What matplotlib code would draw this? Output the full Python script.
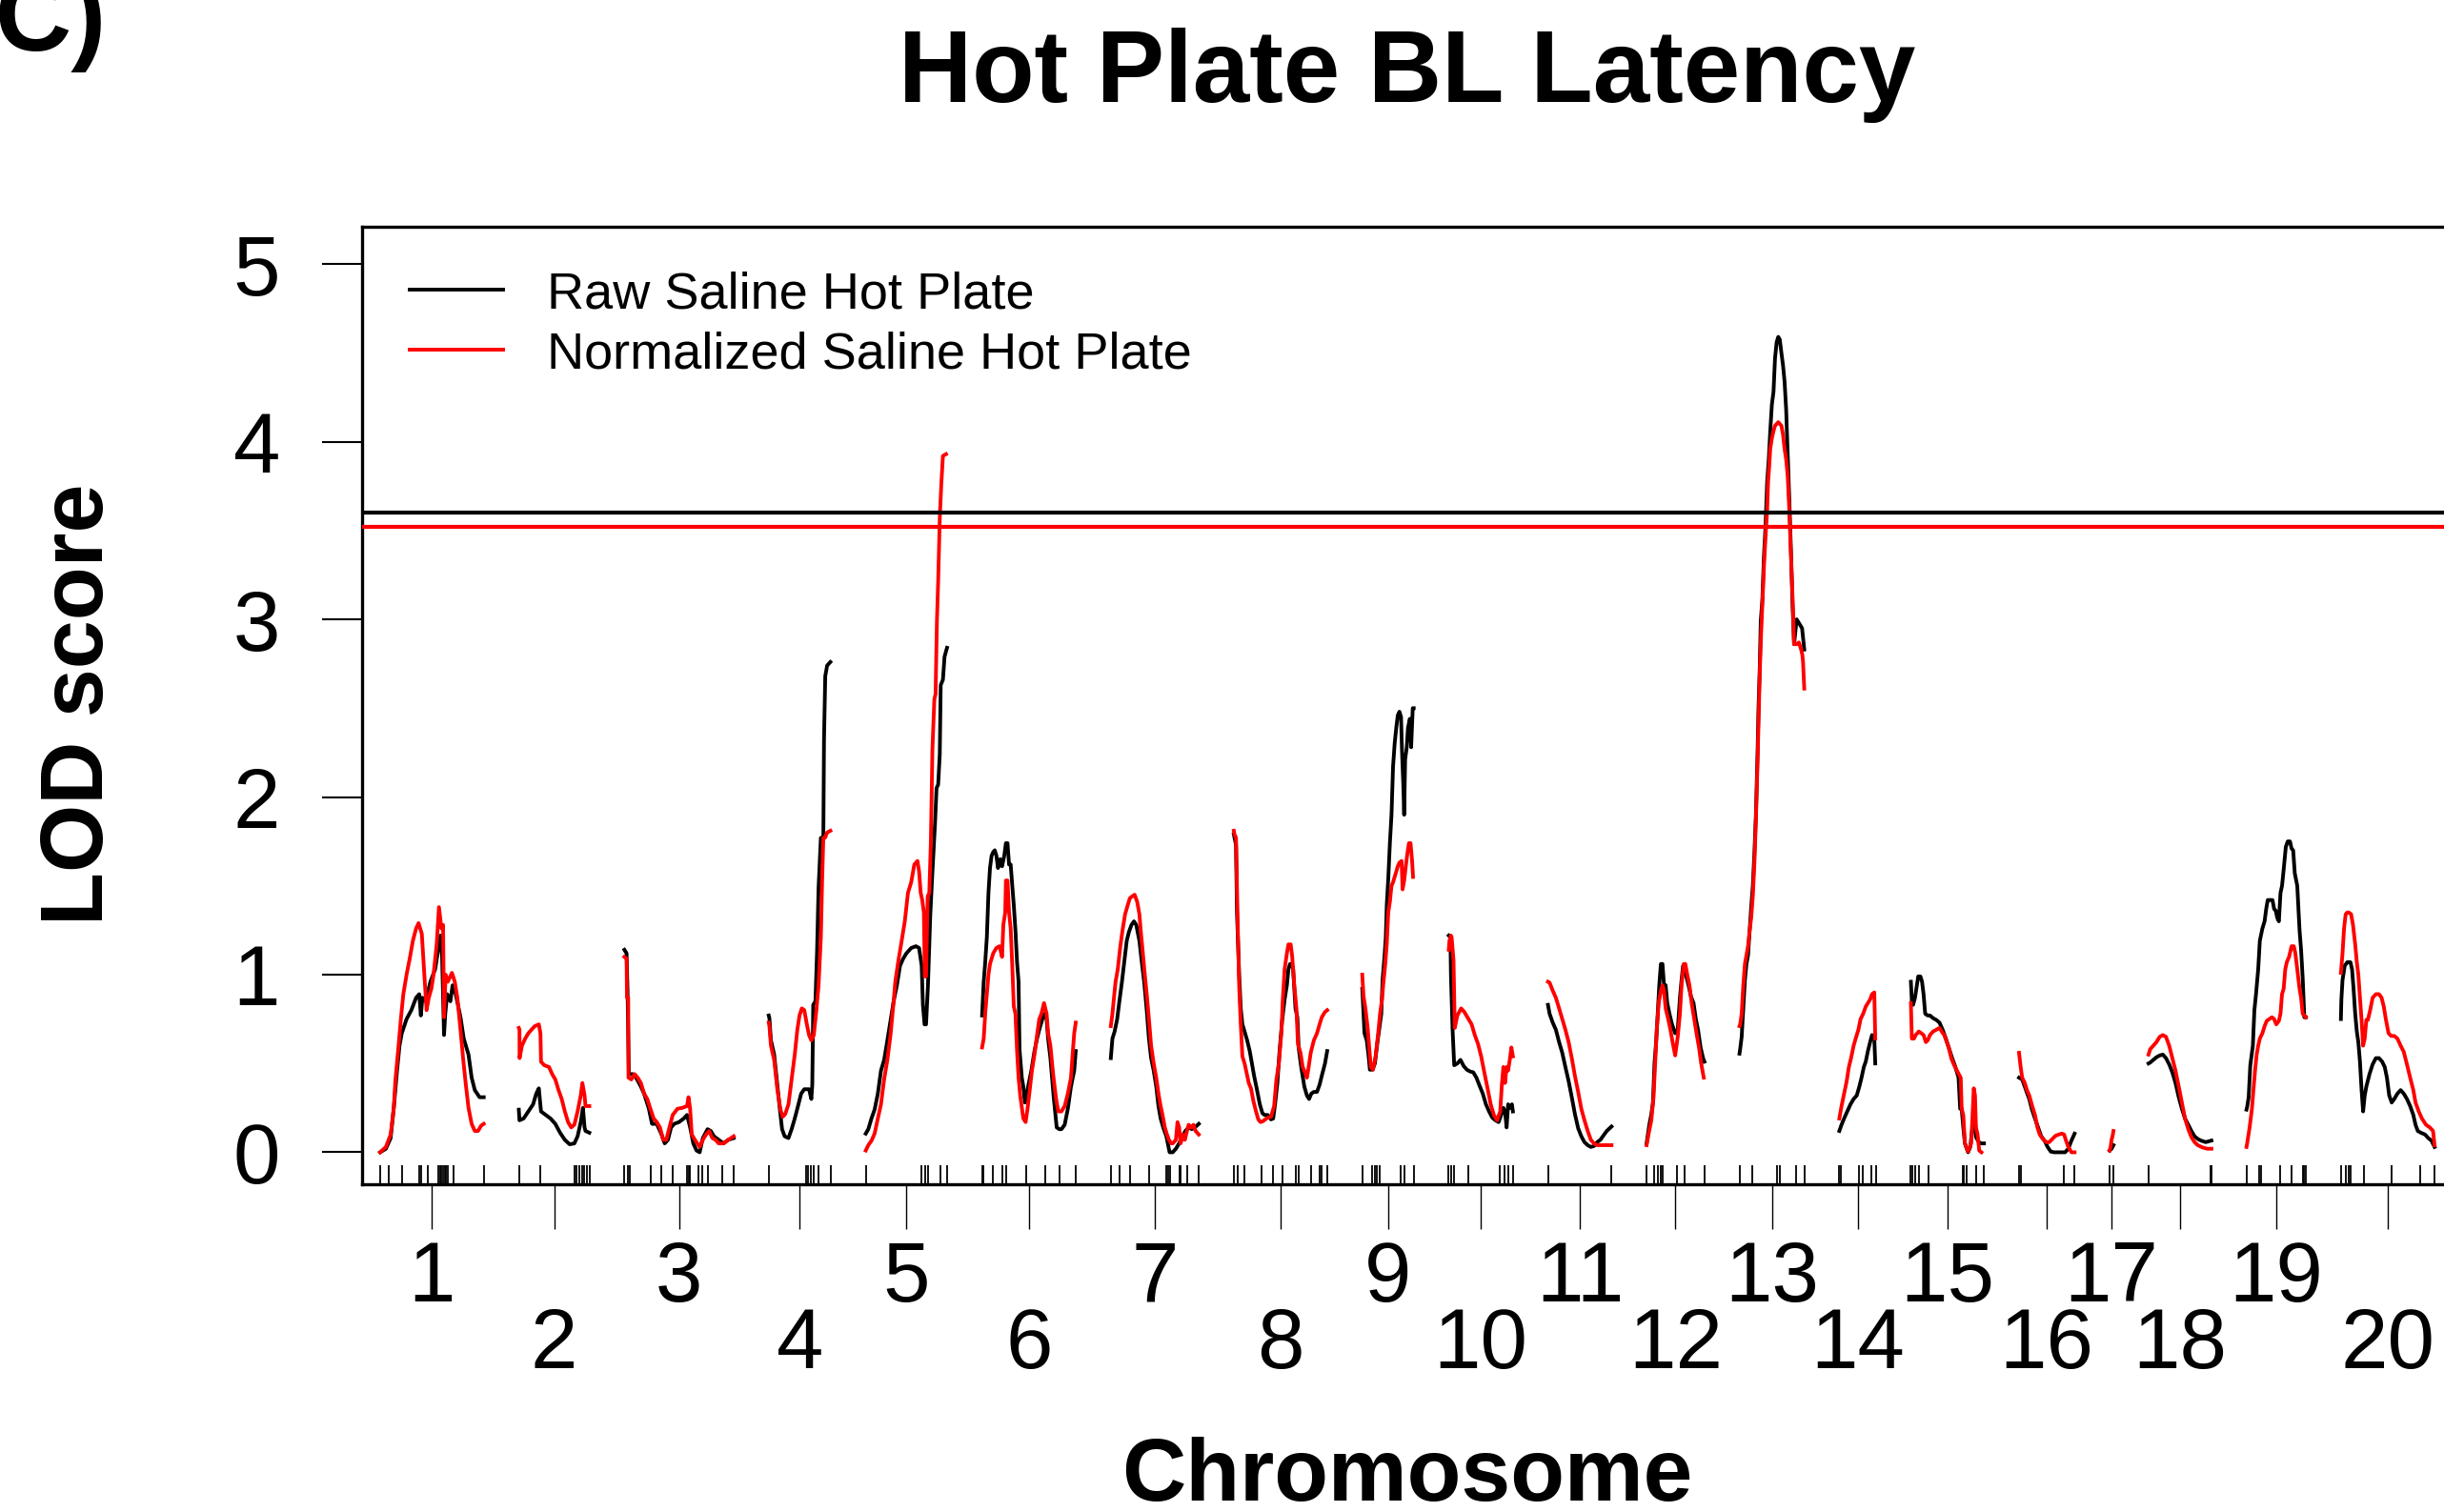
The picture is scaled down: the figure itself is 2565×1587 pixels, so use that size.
import numpy as np
import matplotlib
matplotlib.use('Agg')
import matplotlib.pyplot as plt
import matplotlib.transforms as mtransforms
from matplotlib.lines import Line2D

# LOD profiles: (position within chromosome, LOD)
raw1 = [(0,0.00),(6,0.02),(11,0.08),(14.3,0.25),(17.7,0.46),(20.3,0.60),(22.7,0.67),(27.7,0.75),(32.7,0.80),(37.7,0.87),(41,0.89),(42.7,0.77),(44.3,0.87),(47.7,0.85),(52.7,0.96),(57.7,1.03),(61.7,1.17),(63.3,1.22),(65,1.10),(67,0.66),(68.3,0.78),(70.3,0.89),(73.7,0.85),(76,0.94),(79.3,0.89),(84.3,0.76),(87.7,0.64),(92.7,0.55),(96,0.42),(99.3,0.35),(104.3,0.31),(108.7,0.31)]
norm1 = [(0,0.00),(6,0.03),(11,0.10),(14.3,0.25),(16,0.41),(19.3,0.60),(21.7,0.75),(24.3,0.89),(27.7,1.00),(31,1.09),(34.3,1.19),(37.7,1.26),(40.3,1.29),(43.7,1.23),(46,1.03),(48.7,0.80),(51,0.87),(53.7,0.92),(56,1.00),(59.3,1.17),(61.7,1.38),(64.3,1.26),(66,1.28),(67,0.76),(68.7,1.00),(71,0.96),(75.3,1.01),(78.3,0.96),(81,0.87),(84.3,0.69),(87,0.53),(89.7,0.39),(92.7,0.25),(96,0.16),(99.3,0.12),(102.7,0.12),(106,0.15),(108.7,0.16)]
raw2 = [(0,0.24),(0.7,0.18),(5,0.19),(10,0.23),(15,0.27),(18.3,0.33),(21,0.36),(23.3,0.23),(28.3,0.21),(33.3,0.19),(38.3,0.16),(43.3,0.11),(48.3,0.07),(53.3,0.045),(58.3,0.05),(61.7,0.09),(65,0.17),(67.3,0.25),(69,0.14),(70,0.12),(74,0.11)]
norm2 = [(0,0.70),(0.7,0.69),(0.8,0.53),(3.3,0.60),(6.7,0.64),(10,0.67),(13.3,0.69),(16.7,0.71),(21,0.72),(22.7,0.67),(23.3,0.51),(26.7,0.49),(31.7,0.48),(35,0.44),(38.3,0.41),(41.7,0.35),(45,0.30),(48.3,0.23),(51.7,0.17),(55,0.14),(58.3,0.155),(61.7,0.23),(65,0.32),(66.7,0.39),(69,0.32),(70,0.26),(74,0.26)]
raw3 = [(0,1.14),(2.3,1.12),(3.3,0.91),(4.7,0.44),(9,0.44),(12.3,0.42),(17.3,0.37),(20.7,0.33),(25.7,0.245),(29,0.16),(34,0.16),(39,0.10),(42.3,0.05),(45.7,0.07),(49,0.14),(52.3,0.16),(57.3,0.17),(62.3,0.19),(65.7,0.21),(69,0.14),(72.3,0.05),(75.7,0.01),(79,0.0),(82.3,0.08),(87.3,0.13),(90.7,0.12),(94,0.09),(99,0.07),(104,0.05),(109,0.07),(114.7,0.08)]
norm3 = [(0,1.10),(2.3,1.09),(2.7,0.87),(4,0.87),(4.3,0.42),(7.3,0.41),(10.7,0.44),(14,0.42),(17.3,0.39),(20.7,0.33),(24,0.30),(27.3,0.245),(30.7,0.19),(34,0.17),(37.3,0.14),(40.7,0.07),(44,0.07),(47.3,0.14),(50.7,0.21),(55.7,0.245),(60.7,0.25),(65.7,0.26),(67.3,0.31),(69,0.245),(70.7,0.10),(74,0.07),(79,0.03),(82.3,0.07),(85.7,0.10),(89,0.12),(92.3,0.08),(95.7,0.07),(99,0.05),(104,0.05),(109,0.07),(114.7,0.09)]
raw4 = [(0,0.77),(0.7,0.755),(2.3,0.63),(5.7,0.55),(9,0.38),(11.7,0.24),(14,0.13),(16.7,0.09),(20.7,0.08),(24,0.13),(27.3,0.19),(30.7,0.26),(34,0.33),(37.3,0.355),(42.3,0.355),(44.7,0.30),(45.7,0.38),(46.7,0.83),(49,0.85),(50.7,1.13),(52.3,1.49),(54.7,1.77),(57.3,1.77),(58,2.32),(59.3,2.68),(61.3,2.74),(64.7,2.76)]
norm4 = [(0,0.73),(0.7,0.71),(2.3,0.60),(5.7,0.52),(9,0.355),(12.3,0.24),(14.7,0.20),(17.3,0.215),(20.7,0.27),(24,0.41),(27.3,0.55),(30,0.69),(32.3,0.77),(34.7,0.81),(37.3,0.80),(40,0.72),(42.3,0.66),(44.7,0.63),(47.3,0.66),(50,0.80),(52.3,0.94),(54.7,1.21),(56,1.52),(57.3,1.77),(59,1.77),(61.3,1.80),(64.7,1.81)]
raw5 = [(0,0.105),(2.7,0.13),(6,0.19),(9.3,0.24),(12.7,0.33),(16,0.46),(19.3,0.52),(22.7,0.63),(26,0.74),(29.3,0.85),(32.7,0.94),(36,1.05),(39.3,1.09),(42.7,1.12),(47.7,1.15),(52.7,1.16),(56,1.15),(58.7,1.05),(60,0.83),(61.7,0.72),(63.3,0.72),(65.3,0.94),(67.7,1.33),(70,1.58),(72.7,1.85),(74.3,2.05),(76,2.07),(77.7,2.24),(78.7,2.63),(81,2.66),(82.7,2.79),(85.3,2.84)]
norm5 = [(0,0.01),(2.7,0.04),(6,0.065),(9.3,0.105),(12.7,0.19),(16,0.27),(19.3,0.41),(22.7,0.52),(26,0.66),(29.3,0.85),(31,0.96),(34.3,1.08),(37.7,1.19),(41,1.30),(44.3,1.46),(47.7,1.52),(51,1.62),(54.3,1.64),(56,1.58),(57.7,1.46),(59.3,1.42),(61,1.35),(62,0.99),(63.3,0.99),(65,1.44),(66.7,1.46),(68.3,1.74),(70,2.27),(72,2.55),(73.3,2.58),(74.7,2.99),(76,3.21),(77.7,3.57),(79.3,3.76),(81,3.92),(84.3,3.93)]
raw6 = [(0,0.77),(1.7,0.96),(3.3,1.07),(5,1.21),(6.7,1.46),(8.3,1.60),(10,1.67),(11.7,1.69),(13.3,1.70),(15,1.67),(16.7,1.60),(19,1.65),(21,1.61),(23.3,1.67),(25,1.74),(26.7,1.74),(28.3,1.62),(30,1.62),(31.7,1.50),(33.3,1.39),(35,1.25),(36.7,1.07),(38.3,0.96),(39.3,0.58),(41.7,0.42),(43.3,0.37),(45,0.28),(46.7,0.32),(48.3,0.37),(51.7,0.46),(55,0.57),(57.7,0.64),(60,0.69),(63.3,0.75),(65.7,0.78),(67.7,0.75),(69.3,0.64),(71.7,0.53),(75,0.32),(78.3,0.14),(81,0.13),(83.3,0.13),(86.7,0.155),(90,0.245),(93.3,0.37),(96.7,0.46),(98.3,0.57)]
norm6 = [(0,0.59),(1.7,0.64),(3.3,0.78),(5,0.89),(6.7,1.00),(8.3,1.06),(11.7,1.12),(15,1.15),(18.3,1.16),(21,1.10),(22.3,1.28),(24.3,1.35),(25,1.53),(26.7,1.53),(28.3,1.35),(30,1.26),(31.7,1.05),(33.3,0.82),(35,0.78),(36.7,0.57),(38.3,0.42),(40,0.32),(43.3,0.19),(45.7,0.17),(47.7,0.245),(50,0.35),(52.3,0.46),(55,0.55),(57.7,0.66),(60,0.75),(62.3,0.78),(65,0.84),(67.7,0.78),(69.3,0.67),(71.7,0.60),(73.3,0.51),(75,0.42),(77.7,0.30),(80,0.23),(83.3,0.23),(86.7,0.26),(90,0.33),(93.3,0.42),(95,0.55),(96.7,0.67),(98.3,0.73)]
raw7 = [(0,0.53),(1.7,0.64),(4,0.68),(6.7,0.75),(9,0.85),(11.7,0.96),(14.3,1.08),(16.7,1.19),(19,1.24),(21.7,1.28),(24.3,1.30),(26.7,1.28),(30,1.19),(32.3,1.08),(35,0.96),(37.7,0.80),(40,0.64),(42.3,0.53),(45,0.46),(47.7,0.37),(50,0.26),(52.3,0.19),(55,0.14),(58.3,0.09),(61.7,0.0),(65,0.0),(68.3,0.02),(71.7,0.05),(75,0.09),(78.3,0.12),(81.7,0.14),(85,0.13),(88.3,0.14),(92.3,0.16)]
norm7 = [(0,0.71),(1.7,0.78),(3.3,0.87),(5,0.96),(7.3,1.03),(10,1.16),(12.3,1.25),(15,1.34),(17.7,1.39),(20,1.43),(22.3,1.44),(25,1.45),(27.7,1.41),(30,1.34),(31.7,1.23),(33.3,1.14),(35.7,1.00),(37.7,0.89),(40,0.75),(42.3,0.60),(45,0.50),(47.7,0.42),(50,0.33),(52.3,0.26),(55,0.19),(56.7,0.14),(59,0.10),(61,0.07),(63.3,0.05),(65,0.05),(68.3,0.07),(70,0.17),(71.7,0.14),(73.3,0.05),(75.7,0.10),(77.7,0.07),(80,0.12),(81.7,0.155),(84.3,0.14),(86.7,0.155),(89,0.12),(92.3,0.10)]
raw8 = [(0,1.79),(2.3,1.73),(3.3,1.35),(5.7,0.99),(7.3,0.81),(9,0.72),(11.3,0.68),(14,0.63),(16.7,0.57),(19,0.50),(21.3,0.43),(24,0.36),(27.3,0.27),(30,0.22),(32.3,0.21),(35.7,0.21),(39,0.185),(41.3,0.19),(43.3,0.27),(45.7,0.39),(48,0.57),(50.7,0.74),(53.3,0.86),(55.7,0.94),(57.3,1.03),(59,1.06),(60.7,1.06),(62.3,1.03),(64.7,0.81),(66.7,0.76),(68,0.59),(70.7,0.48),(74,0.37),(76.7,0.32),(79,0.30),(81.3,0.33),(84,0.34),(87.3,0.34),(90,0.38),(92.3,0.43),(95.7,0.50),(98,0.57)]
norm8 = [(0,1.81),(0.7,1.79),(2.3,1.77),(4,1.30),(5.7,0.92),(7.3,0.72),(9,0.54),(11.3,0.50),(13.3,0.45),(15.7,0.39),(18,0.36),(20.7,0.285),(23.3,0.23),(25.7,0.185),(28,0.17),(30.7,0.175),(34,0.19),(39,0.20),(42.3,0.26),(44.7,0.41),(47.3,0.50),(50,0.68),(51.3,0.85),(53.3,1.03),(55.7,1.12),(57.3,1.17),(59.7,1.17),(61.3,1.10),(63.3,0.95),(65.7,0.81),(67.3,0.61),(70,0.56),(72.3,0.48),(74.7,0.45),(76.7,0.42),(78,0.46),(80.7,0.56),(84,0.63),(87.3,0.67),(90,0.72),(92.3,0.76),(95.7,0.79),(98,0.80)]
raw9 = [(0,0.92),(0.7,0.85),(2.3,0.67),(4.7,0.63),(6.7,0.54),(8,0.465),(10.7,0.465),(13.3,0.50),(15.7,0.61),(18,0.70),(20,0.78),(21.3,0.97),(23.3,1.10),(24.7,1.21),(25.7,1.39),(27.3,1.54),(29,1.74),(30.7,1.90),(32.3,2.17),(34,2.30),(35.7,2.39),(37.3,2.46),(39,2.48),(40.7,2.45),(41.7,2.26),(43,2.08),(44,1.90),(45,2.21),(46.7,2.28),(48,2.39),(50,2.44),(51.3,2.28),(53,2.50),(54,2.50)]
norm9 = [(0,1.00),(1.3,0.88),(3.3,0.81),(5.7,0.70),(7.3,0.59),(9,0.48),(11.3,0.465),(14,0.54),(16.7,0.67),(18.7,0.78),(20.7,0.86),(22.3,0.96),(24,1.05),(25.7,1.17),(27.3,1.35),(29,1.41),(30.7,1.50),(32.3,1.52),(34,1.55),(35.7,1.58),(37.3,1.61),(39,1.63),(41.3,1.64),(42.3,1.48),(44,1.53),(45.7,1.61),(47.3,1.68),(49,1.74),(50.7,1.74),(52.3,1.64),(53.3,1.55)]
raw10 = [(0,1.22),(1.7,1.21),(2.3,0.99),(4,0.69),(5.7,0.49),(9,0.50),(12.3,0.52),(15.7,0.485),(19,0.465),(22.3,0.455),(25.7,0.45),(29,0.42),(32.3,0.375),(35.7,0.33),(39,0.27),(42.3,0.23),(45.7,0.195),(49,0.18),(52.3,0.17),(55,0.21),(57.3,0.25),(59,0.23),(60.7,0.14),(62.3,0.27),(64,0.25),(66.3,0.27),(67.3,0.23)]
norm10 = [(0,1.14),(0.7,1.19),(2.3,1.22),(3,1.21),(5,1.08),(6.3,0.70),(9,0.77),(13,0.81),(16.3,0.79),(20.7,0.75),(24,0.72),(27.3,0.66),(30.7,0.61),(34,0.54),(37.3,0.45),(40.7,0.36),(44,0.27),(47.3,0.21),(50.7,0.18),(54,0.23),(55.7,0.38),(57.3,0.48),(59,0.39),(60.7,0.48),(62.3,0.46),(64,0.52),(65.7,0.59),(67.3,0.54)]
raw11 = [(0,0.83),(1.7,0.78),(5,0.73),(8.3,0.69),(11.7,0.62),(15,0.56),(18.3,0.48),(21.7,0.40),(25,0.31),(28.3,0.215),(31.7,0.135),(35,0.09),(38.3,0.057),(41.7,0.04),(45,0.03),(48.3,0.035),(51.7,0.057),(55,0.07),(58.3,0.095),(61.7,0.12),(66.7,0.145)]
norm11 = [(0,0.96),(1.7,0.955),(5,0.91),(8.3,0.87),(11.7,0.81),(15,0.75),(18.3,0.69),(21.7,0.62),(25,0.53),(28.3,0.43),(31.7,0.34),(35,0.245),(38.3,0.18),(41.7,0.12),(45,0.07),(48.3,0.05),(51.7,0.04),(66.7,0.04)]
raw12 = [(0,0.05),(2.7,0.15),(5,0.215),(6.7,0.28),(8.3,0.50),(10,0.62),(11.7,0.78),(13.3,0.94),(15,1.06),(16.7,1.06),(18.3,0.94),(20,0.94),(21.7,0.84),(24,0.78),(26.7,0.72),(30,0.67),(32.7,0.69),(35,0.87),(36.7,0.97),(38.3,1.05),(40,1.05),(41.7,0.99),(44,0.94),(46.7,0.875),(49.3,0.84),(51.7,0.75),(54,0.69),(56.7,0.59),(59.3,0.53),(60.7,0.51)]
norm12 = [(0,0.04),(2.7,0.12),(5,0.18),(7.3,0.31),(9.3,0.53),(10.7,0.69),(12.7,0.84),(15,0.91),(16.7,0.94),(18.3,0.91),(20,0.81),(22.7,0.75),(25,0.69),(27.3,0.62),(30,0.545),(32.7,0.65),(35,0.78),(36.7,0.94),(39,1.06),(40.7,1.06),(42.7,1.00),(45,0.94),(47.3,0.84),(50,0.75),(52.7,0.66),(55,0.59),(57.3,0.50),(60,0.42)]
raw13 = [(0,0.555),(0.7,0.58),(2.3,0.65),(4,0.81),(5.7,0.97),(7.3,1.06),(9,1.11),(10.7,1.25),(12.3,1.38),(14,1.50),(15.7,1.69),(17.3,1.91),(19,2.26),(20,2.51),(21.3,2.73),(22.3,2.99),(24,3.11),(25.7,3.36),(27.3,3.52),(29,3.77),(30.7,3.90),(32.3,4.06),(34,4.21),(35.7,4.28),(37.3,4.47),(39,4.56),(40.7,4.59),(42.3,4.575),(44,4.50),(45.7,4.43),(47.3,4.34),(49,4.18),(50,4.02),(51.3,3.83),(52.7,3.61),(54,3.39),(55.7,3.08),(57.3,2.86),(60,3.00),(62.3,2.98),(65.7,2.95),(68,2.83)]
norm13 = [(0,0.71),(0.7,0.72),(2.3,0.78),(4,0.94),(5.7,1.06),(7.3,1.11),(9,1.16),(10.7,1.25),(12.3,1.32),(14,1.44),(15.7,1.63),(17.3,1.88),(19,2.20),(20,2.42),(21.3,2.70),(22.7,2.92),(24,3.08),(25.7,3.30),(27.3,3.46),(29,3.61),(30,3.77),(31.3,3.87),(32.3,3.96),(34,4.02),(35.7,4.06),(37.3,4.09),(39,4.10),(40.7,4.11),(42.3,4.10),(44,4.09),(45.7,4.04),(47.3,3.96),(49,3.90),(50.7,3.80),(52.3,3.61),(53.3,3.46),(54.7,3.27),(56,3.08),(57.3,2.86),(60,2.86),(62.3,2.87),(64.7,2.83),(66,2.80),(66.7,2.76),(68,2.61)]
raw14 = [(0,0.12),(2.3,0.155),(5,0.19),(8.3,0.23),(11.7,0.27),(15,0.30),(18.3,0.32),(21,0.37),(23.3,0.42),(25.7,0.48),(27.7,0.51),(30,0.57),(32.3,0.62),(34.3,0.66),(36.7,0.64),(37.7,0.50)]
norm14 = [(0,0.19),(2.3,0.26),(5,0.33),(7.7,0.40),(10,0.48),(12.3,0.53),(15,0.60),(17.7,0.65),(20,0.69),(22.3,0.75),(25,0.78),(27.7,0.82),(30,0.84),(32.3,0.86),(34.3,0.89),(36.7,0.90),(37.7,0.64)]
raw15 = [(0,0.96),(1,0.85),(2.3,0.83),(4.3,0.87),(5.7,0.92),(7.7,0.99),(10,0.99),(11.7,0.96),(13.3,0.89),(15,0.78),(17.7,0.77),(20,0.77),(23.3,0.755),(26.7,0.745),(30,0.73),(33.3,0.69),(36.7,0.64),(40,0.585),(43.3,0.53),(46.7,0.48),(50,0.42),(51.7,0.245),(53.3,0.245),(55,0.14),(56.7,0.05),(60,0.0),(62.3,0.03),(65,0.16),(66.7,0.245),(68.3,0.085),(71,0.06),(73.3,0.05),(76.7,0.05)]
norm15 = [(0,0.84),(1,0.64),(3.3,0.64),(5,0.66),(6.7,0.67),(8.3,0.68),(11,0.67),(13.3,0.66),(15.7,0.62),(17.7,0.63),(20,0.66),(23.3,0.68),(26.7,0.69),(30,0.70),(32.3,0.68),(35,0.66),(37.7,0.62),(40,0.585),(42.3,0.53),(45,0.495),(48.3,0.46),(52.3,0.42),(53.3,0.245),(55,0.21),(56.7,0.05),(60,0.004),(63.3,0.05),(65,0.245),(66,0.36),(67.3,0.32),(68.3,0.14),(70,0.10),(71.7,0.01),(74,0.0)]
raw16 = [(0,0.42),(3.3,0.41),(6,0.37),(8.3,0.335),(10.7,0.30),(13.3,0.245),(16.7,0.19),(20,0.14),(23.3,0.09),(26.7,0.066),(30,0.03),(33.3,0.004),(36.7,0.0),(48.3,0.0),(51.7,0.02),(55,0.066),(58.3,0.105)]
norm16 = [(0,0.56),(1.7,0.48),(3.3,0.42),(6,0.39),(8.3,0.35),(10.7,0.32),(13.3,0.27),(16.7,0.21),(19.3,0.14),(21.7,0.10),(25,0.075),(28.3,0.057),(31.7,0.057),(35,0.075),(38.3,0.093),(41.7,0.10),(45,0.105),(47.3,0.10),(49.3,0.066),(51.7,0.03),(55,0.0),(58.3,0.0)]
raw17 = [(0,0.01),(2,0.02),(4,0.04)]
norm17 = [(0,0.01),(1,0.03),(2,0.07),(3,0.09),(4,0.12)]
raw18 = [(0,0.50),(1.7,0.505),(5,0.52),(8.3,0.535),(11.7,0.545),(15,0.55),(18.3,0.53),(21.7,0.495),(25,0.45),(28.3,0.39),(31.7,0.31),(35,0.245),(38.3,0.19),(41.7,0.155),(45,0.12),(48.3,0.09),(51.7,0.075),(55,0.066),(60,0.057),(66,0.066)]
norm18 = [(0,0.55),(1.7,0.58),(5,0.60),(8.3,0.62),(11.7,0.65),(15,0.66),(18.3,0.65),(21.7,0.60),(25,0.53),(28.3,0.46),(31.7,0.37),(35,0.28),(38.3,0.19),(41.7,0.13),(45,0.085),(48.3,0.057),(51.7,0.04),(56.7,0.027),(61.7,0.02),(66,0.02)]
raw19 = [(0,0.24),(0.7,0.255),(2.3,0.31),(4,0.49),(6.7,0.60),(8.3,0.80),(10,0.89),(12.3,1.03),(14,1.19),(16.7,1.26),(19,1.30),(20.7,1.37),(22.3,1.42),(24.7,1.42),(27.3,1.42),(29,1.37),(30.7,1.36),(32.3,1.32),(34,1.30),(35.7,1.46),(37.3,1.50),(39,1.59),(41.3,1.72),(43.3,1.75),(45.7,1.75),(47.3,1.71),(49,1.70),(50.7,1.57),(53.3,1.50),(55.7,1.25),(57.3,1.14),(59,0.98),(60.7,0.76),(62.3,0.76)]
norm19 = [(0,0.03),(0.7,0.05),(3.3,0.14),(5.7,0.245),(7.3,0.35),(9,0.46),(10.7,0.55),(12.3,0.60),(14,0.64),(16.7,0.67),(19,0.71),(21.3,0.74),(24,0.75),(26.7,0.76),(29,0.75),(31.3,0.72),(34,0.74),(35.7,0.78),(37.3,0.89),(39,0.92),(40.7,1.03),(42.3,1.07),(44.7,1.10),(47.3,1.16),(49.7,1.16),(51.3,1.12),(53.3,1.03),(55.7,0.92),(57.3,0.87),(59,0.78),(62.3,0.76)]
raw20 = [(0,0.75),(0.5,0.86),(1.7,0.97),(4,1.05),(6.7,1.07),(10,1.07),(11.7,1.03),(13.3,0.92),(15,0.78),(16.7,0.68),(18.3,0.62),(20,0.51),(21.7,0.35),(23.3,0.23),(25,0.32),(26.7,0.37),(30,0.44),(33.3,0.495),(36.7,0.53),(40,0.53),(43.3,0.51),(46,0.48),(48.3,0.42),(50.7,0.32),(53.3,0.28),(56,0.30),(59.3,0.33),(62.7,0.35),(66,0.33),(69.3,0.30),(72.7,0.26),(76,0.21),(78.3,0.155),(80.7,0.12),(84,0.11),(88.3,0.10),(91.7,0.08),(95,0.066),(98.3,0.03)]
norm20 = [(0,1.01),(1.7,1.12),(3.3,1.26),(5,1.34),(6.7,1.35),(8.3,1.35),(10.7,1.34),(12.7,1.28),(15,1.17),(16.7,1.07),(18.3,1.00),(20,0.87),(21.7,0.745),(23.3,0.60),(25,0.64),(26.7,0.745),(28.3,0.745),(30.7,0.80),(33.3,0.87),(36.7,0.89),(40,0.89),(42.7,0.87),(45,0.82),(47.3,0.745),(50,0.67),(52.7,0.655),(56,0.655),(59.3,0.64),(62.7,0.60),(66,0.565),(69.3,0.495),(72.7,0.42),(76,0.35),(78.3,0.28),(81.7,0.23),(85,0.19),(89.3,0.155),(93.3,0.14),(96.7,0.12),(98.3,0.04)]

# marker positions (rug)
markers = [
    [0, 9.3, 23.3, 41, 43, 50.3, 61, 62.7, 64.3, 66, 67.7, 69.3, 71, 77, 108.7],
    [0, 22.7, 58.3, 60.7, 63.3, 66, 68.3, 71.7, 74],
    [0, 3.3, 5.7, 27.3, 39, 50.7, 65.7, 67.3, 69, 77.3, 81.7, 87.3, 103, 114.7],
    [0, 39, 41.3, 44, 46.7, 52.3, 65],
    [0, 58.7, 62, 65.3, 78.7, 85.3],
    [0, 1.7, 11, 21.7, 25, 46.7, 66.7, 81, 98.3],
    [0, 9, 20, 40, 58.3, 60, 62.3, 71.7, 73.3, 80, 92.3],
    [0, 4, 11.3, 29, 40.7, 51.3, 64.7, 68, 80.7, 90, 92.3, 98],
    [0, 10.7, 13.3, 15.7, 18, 40.7, 44, 54],
    [0, 2.3, 5.7, 20.7, 54, 59, 62.3, 67.3],
    [0, 66.7],
    [0, 8.3, 11.7, 15, 17.3, 31.7, 40, 60.7],
    [0, 13.3, 39, 42.3, 59, 68],
    [0, 1.7, 21, 25, 33.3, 38.3],
    [0, 1.7, 4.3, 8.3, 18.3, 54.3, 55.7, 58.3, 68.3, 76.7],
    [0, 1.7, 46.7, 58.3],
    [0, 4],
    [0, 65, 66],
    [0, 13.3, 15.7, 35.7, 47.3, 59, 60.7, 62.3],
    [0, 5.7, 8.3, 10.7, 24, 53.3, 83.3, 98.3],
]

chroms = [str(i) for i in range(1, 21)]
raw_scans = [raw1, raw2, raw3, raw4, raw5, raw6, raw7, raw8, raw9, raw10,
             raw11, raw12, raw13, raw14, raw15, raw16, raw17, raw18, raw19, raw20]
norm_scans = [norm1, norm2, norm3, norm4, norm5, norm6, norm7, norm8, norm9, norm10,
              norm11, norm12, norm13, norm14, norm15, norm16, norm17, norm18, norm19, norm20]
thr_raw = 3.60
thr_norm = 3.52
gap = 36.8

plt.rcParams['font.family'] = ['Liberation Sans', 'DejaVu Sans']

chr_len = [max(m) for m in markers]
offsets = []
pos = 0.0
for L in chr_len:
    offsets.append(pos)
    pos += L + gap
mids = [o + L / 2 for o, L in zip(offsets, chr_len)]

W, H = 2565, 1587
fig = plt.figure(figsize=(W / 100, H / 100), dpi=100)
ax = fig.add_axes([380 / W, (H - 1243) / H, 2250 / W, 1005 / H])

for i in range(20):
    x, y = zip(*raw_scans[i])
    ax.plot(np.array(x) + offsets[i], y, color='black', lw=2.8, zorder=2)
for i in range(20):
    x, y = zip(*norm_scans[i])
    ax.plot(np.array(x) + offsets[i], y, color='red', lw=2.8, zorder=2)

ax.axhline(thr_raw, color='black', lw=3.0, zorder=3)
ax.axhline(thr_norm, color='red', lw=3.0, zorder=3)

# marker rug
trans = mtransforms.blended_transform_factory(ax.transData, ax.transAxes)
allm = [o + p for o, m in zip(offsets, markers) for p in m]
ax.vlines(allm, 0, 0.02, transform=trans, color='black', lw=1.3)

ax.set_xlim(-19, -19 + 2250)
ax.set_ylim(-0.18, 5.21)

ax.set_xticks(mids[::2])
ax.set_xticklabels(chroms[::2])
ax.set_xticks(mids[1::2], minor=True)
ax.set_xticklabels(chroms[1::2], minor=True)
ax.tick_params(axis='x', which='both', length=34, width=1.0, direction='out', labelsize=64)
ax.tick_params(axis='x', which='major', pad=8)
ax.tick_params(axis='x', which='minor', pad=58)

ax.set_yticks(range(6))
ax.tick_params(axis='y', length=30, width=1.5, direction='out', labelsize=64, pad=32)

for s in ax.spines.values():
    s.set_linewidth(2.4)

handles = [Line2D([], [], color='black', lw=2.8), Line2D([], [], color='red', lw=2.8)]
ax.legend(handles, ['Raw Saline Hot Plate', 'Normalized Saline Hot Plate'],
          loc='upper left', bbox_to_anchor=(0.0222, 0.954), frameon=False,
          fontsize=39, handlelength=1.81, handletextpad=0.85, labelspacing=0.24,
          borderpad=0, borderaxespad=0)

fig.text(1477 / W, 1 - 107 / H, 'Hot Plate BL Latency', ha='center', va='baseline',
         fontsize=77, fontweight='bold')
fig.text(-0.002, 1 - 53 / H, 'C)', ha='left', va='baseline', fontsize=80, fontweight='bold')
fig.text(1477 / W, 1 - 1575 / H, 'Chromosome', ha='center', va='baseline',
         fontsize=67, fontweight='bold')
fig.text(108 / W, 1 - 739 / H, 'LOD score', rotation=90, rotation_mode='anchor',
         ha='center', va='baseline', fontsize=66, fontweight='bold')

fig.savefig('out.png', dpi=100)
